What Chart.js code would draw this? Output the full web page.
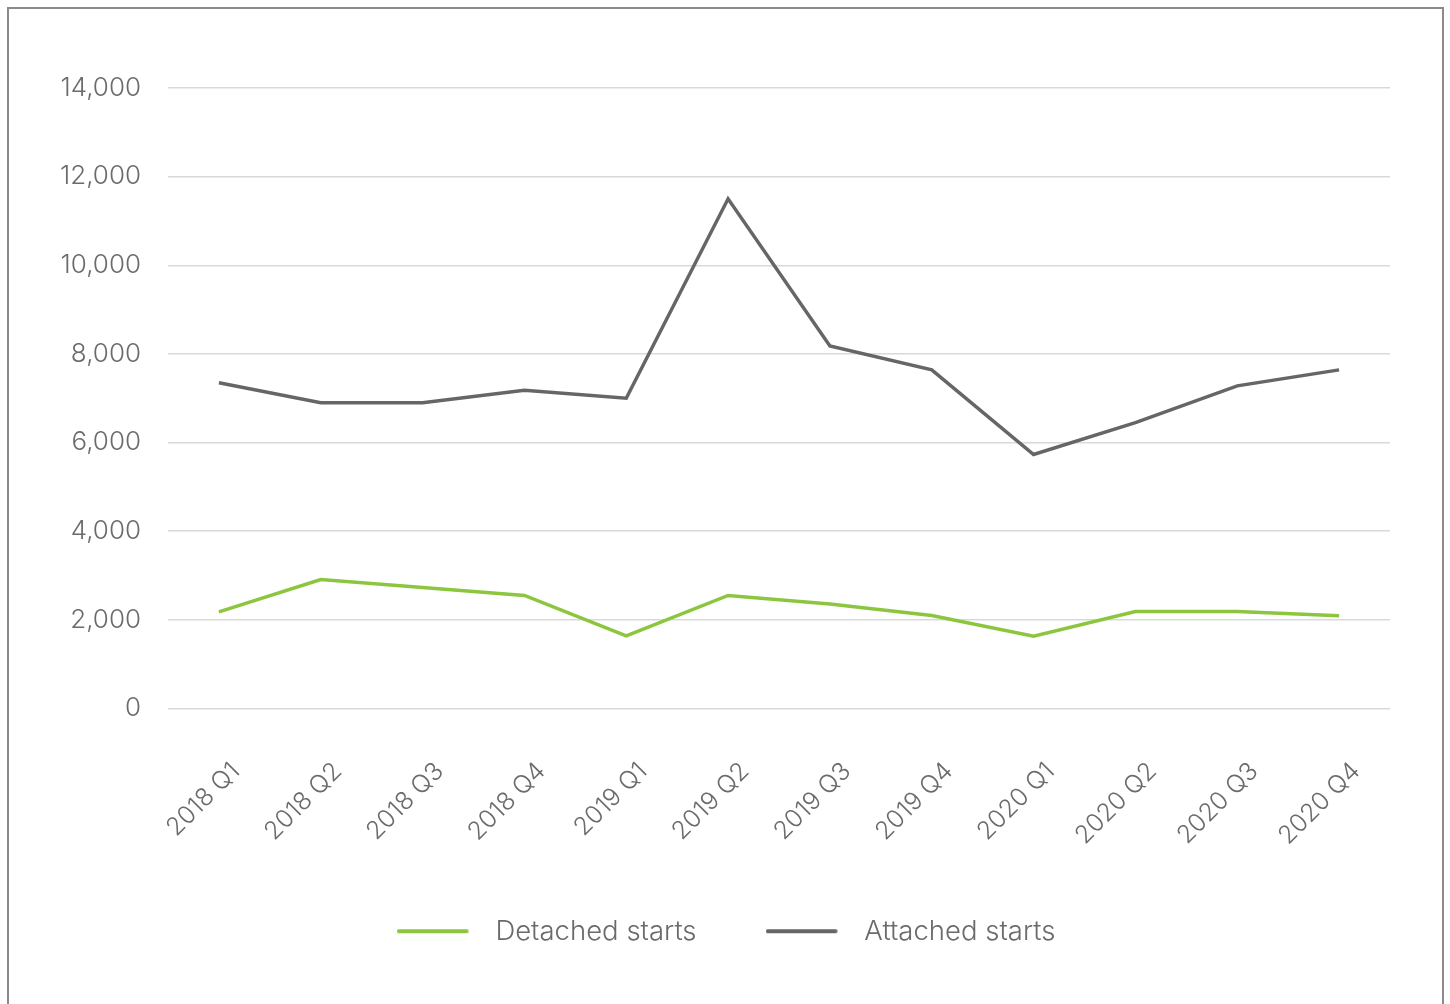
<!DOCTYPE html>
<html>
<head>
<meta charset="utf-8">
<script src="https://cdn.jsdelivr.net/npm/chart.js@4/dist/chart.umd.min.js"></script>
<style>
  html, body { margin: 0; padding: 0; background: #ffffff; }
  #wrap { position: relative; width: 1450px; height: 1004px; overflow: hidden; }
  #frame { position: absolute; left: 7px; top: 7px; width: 1437px; height: 1020px; border: 2px solid #8a8a8a; box-sizing: border-box; pointer-events: none; }
  canvas { position: absolute; left: 0; top: 0; }
</style>
</head>
<body>
<div id="wrap">
  <canvas id="c" width="1450" height="1004"></canvas>
  <div id="frame"></div>
</div>
<script>
const categories = ["2018 Q1", "2018 Q2", "2018 Q3", "2018 Q4", "2019 Q1", "2019 Q2", "2019 Q3", "2019 Q4", "2020 Q1", "2020 Q2", "2020 Q3", "2020 Q4"];
const detachedStarts = [2180, 2910, 2730, 2550, 1640, 2550, 2360, 2100, 1630, 2190, 2190, 2090];
const attachedStarts = [7350, 6900, 6900, 7180, 7000, 11500, 8180, 7640, 5730, 6450, 7280, 7640];
const seriesNames = ["Detached starts", "Attached starts"];
const yMin = 0, yMax = 14000, yStep = 2000;

const GREEN = "#8cc63f";
const GREY = "#666666";
const TEXT = "#6b6b6b";
const FONT = "Inter, 'Open Sans', sans-serif";
const FS = 26;
const LEGEND_FS = 27.5;

function legendSwatch(color) {
  const c = document.createElement("canvas");
  c.width = 85; c.height = 6;
  const g = c.getContext("2d");
  g.strokeStyle = color;
  g.lineWidth = 4;
  g.lineCap = "round";
  g.beginPath();
  g.moveTo(2, 3);
  g.lineTo(70, 3);
  g.stroke();
  return c;
}

// centre the legend on the page width (as in the reference) rather than on the padded box
const legendShift = {
  id: "legendShift",
  afterLayout(chart) {
    const lg = chart.legend;
    if (lg) { lg.left += 31; lg.right += 31; }
  }
};

const chart = new Chart(document.getElementById("c"), {
  type: "line",
  data: {
    labels: categories,
    datasets: [
      { label: seriesNames[0], data: detachedStarts, borderColor: GREEN, backgroundColor: GREEN, borderWidth: 3.5, pointRadius: 0, tension: 0, pointStyle: legendSwatch(GREEN) },
      { label: seriesNames[1], data: attachedStarts, borderColor: GREY, backgroundColor: GREY, borderWidth: 3.5, pointRadius: 0, tension: 0, pointStyle: legendSwatch(GREY) }
    ]
  },
  plugins: [legendShift],
  options: {
    responsive: false,
    animation: false,
    devicePixelRatio: 1,
    layout: { padding: { top: 88, right: 60, bottom: 49, left: 0 } },
    plugins: {
      tooltip: { enabled: false },
      legend: {
        position: "bottom",
        labels: {
          usePointStyle: true,
          pointStyleWidth: 85,
          boxHeight: 6,
          padding: 69,
          color: TEXT,
          font: { family: FONT, size: LEGEND_FS, weight: 300 }
        }
      }
    },
    scales: {
      x: {
        offset: true,
        grid: { display: false, drawTicks: false },
        border: { display: false },
        ticks: {
          color: TEXT,
          font: { family: FONT, size: FS - 1, weight: 300 },
          minRotation: 45,
          maxRotation: 45,
          padding: 48,
          labelOffset: 17,
          autoSkip: false
        },
        afterFit: (s) => { s.height = 140; }
      },
      y: {
        min: yMin,
        max: yMax,
        grid: { color: "#d9d9d9", lineWidth: 1.5, drawTicks: false },
        border: { display: false },
        ticks: {
          stepSize: yStep,
          color: TEXT,
          padding: 27,
          font: { family: FONT, size: FS, weight: 300 },
          callback: (v) => v.toLocaleString("en-US")
        },
        afterFit: (s) => { s.width = 168; }
      }
    }
  }
});
</script>
</body>
</html>
